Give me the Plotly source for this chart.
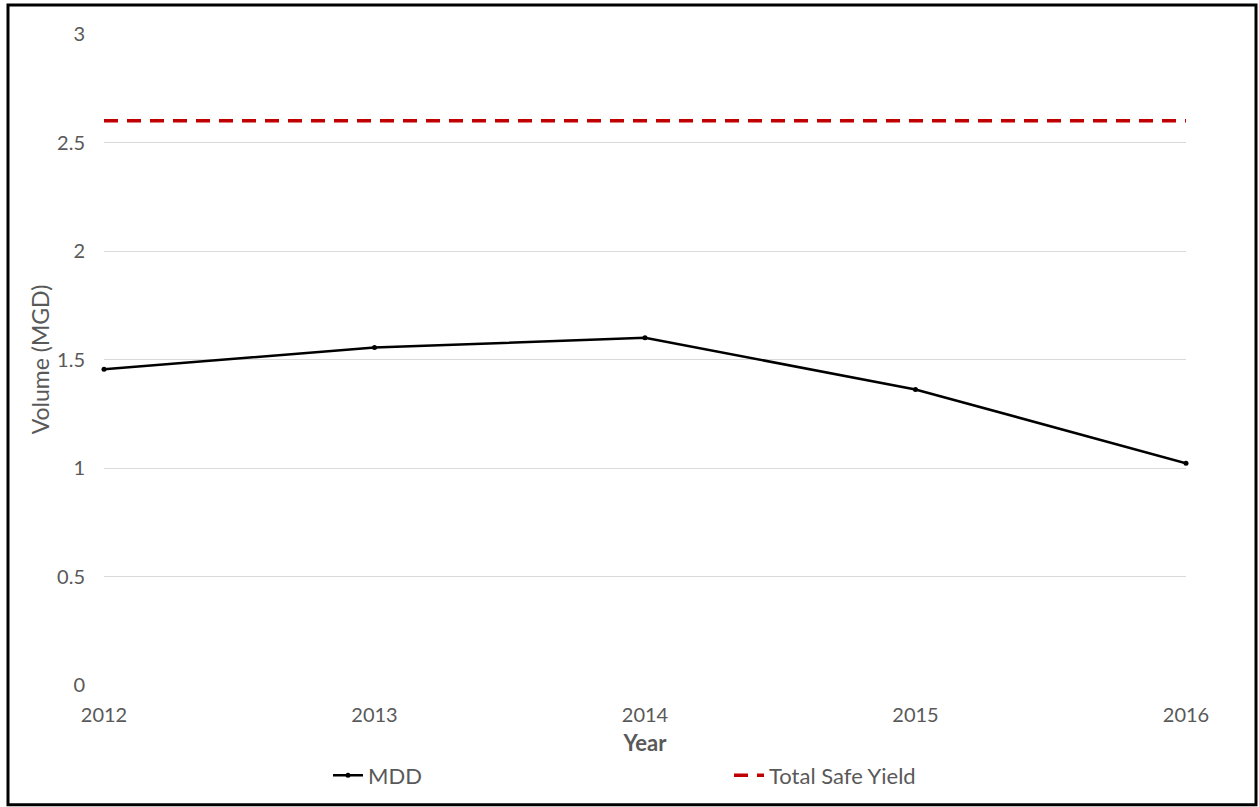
import plotly.graph_objects as go

years = [2012, 2013, 2014, 2015, 2016]
mdd = [1.455, 1.555, 1.60, 1.362, 1.022]
safe_yield = [2.6, 2.6, 2.6, 2.6, 2.6]
y_ticks = [0, 0.5, 1, 1.5, 2, 2.5, 3]
y_tick_labels = ["0", "0.5", "1", "1.5", "2", "2.5", "3"]

FONT = "Lato, 'Open Sans', sans-serif"
GRAY = "#595959"

fig = go.Figure()
fig.add_trace(go.Scatter(
    x=years, y=mdd, name="MDD", mode="lines+markers",
    line=dict(color="#000000", width=2.5),
    marker=dict(color="#000000", size=5),
    cliponaxis=False,
))
fig.add_trace(go.Scatter(
    x=years, y=safe_yield, name="Total Safe Yield", mode="lines",
    line=dict(color="#c00000", width=3.5, dash="14px,9px"),
    cliponaxis=False,
))

fig.update_layout(
    width=1259, height=807,
    margin=dict(l=104, r=73, t=34, b=121),
    paper_bgcolor="white", plot_bgcolor="white",
    font=dict(family=FONT, color=GRAY, size=20),
    showlegend=True,
    legend=dict(
        orientation="h", x=(328 - 104) / 1082, xanchor="left", y=-0.105, yanchor="top",
        font=dict(size=22, color=GRAY),
        entrywidth=356, entrywidthmode="pixels",
        itemwidth=30,
    ),
    xaxis=dict(
        range=[2012, 2016], tickvals=years, ticktext=[str(y) for y in years],
        showgrid=False, zeroline=False, showline=False,
        ticks="", ticklabelstandoff=16,
        tickfont=dict(size=20, color=GRAY),
        title=dict(text="<b>Year</b>", font=dict(size=22, color=GRAY), standoff=10),
    ),
    yaxis=dict(
        range=[0, 3], tickvals=y_ticks, ticktext=y_tick_labels,
        showgrid=True, gridcolor="#d9d9d9", gridwidth=1,
        zeroline=False, showline=False, ticks="", ticklabelstandoff=18,
        tickfont=dict(size=20, color=GRAY),
        title=dict(text="Volume (MGD)", font=dict(size=23, color=GRAY), standoff=1),
    ),
    shapes=[dict(
        type="rect", xref="paper", yref="paper",
        x0=(8 - 104) / 1082, x1=(1256 - 104) / 1082,
        y0=(686 - 806) / 652, y1=(686 - 5) / 652,
        line=dict(color="#000000", width=3), fillcolor="rgba(0,0,0,0)",
        layer="above",
    )],
)

fig.write_html("out.html")
